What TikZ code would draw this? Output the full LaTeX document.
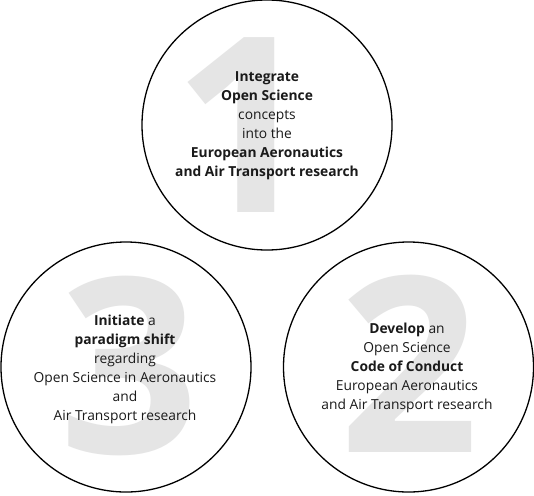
\documentclass[tikz,border=0pt]{standalone}
\usepackage{fontspec}
\setmainfont{Open Sans}
\definecolor{digitgray}{HTML}{E5E5E5}
\definecolor{txt}{HTML}{1A1A1A}
\begin{document}
\begin{tikzpicture}[x=1pt,y=-1pt,
  ring/.style={draw=black,line width=1.3pt,fill=white,circle,minimum size=250pt,inner sep=0pt},
  bigdigit/.style={text=digitgray,font=\bfseries\fontsize{245}{245}\selectfont,inner sep=0pt,anchor=base},
  label/.style={text=txt,align=center,font=\fontsize{13.8}{19}\selectfont,inner sep=0pt}]
\useasboundingbox (0,0) rectangle (534,495);
\node[ring] (c1) at (267,125) {};
\node[ring] (c2) at (408.5,367) {};
\node[ring] (c3) at (126,367) {};
\node[bigdigit] (d1) at (243.5,212) {1};
\node[bigdigit] (d2) at (409,452) {2};
\node[bigdigit] (d3) at (129.5,453) {3};
\node[label] (t1) at (267,125.5) {\textbf{Integrate}\\\textbf{Open Science}\\concepts\\into the\\\textbf{European Aeronautics}\\\textbf{and Air Transport research}};
\node[label] (t2) at (407,368) {\textbf{Develop} an\\Open Science\\\textbf{Code of Conduct}\\European Aeronautics\\and Air Transport research};
\node[label] (t3) at (125,369) {\textbf{Initiate} a\\\textbf{paradigm shift}\\regarding\\Open Science in Aeronautics\\and\\Air Transport research};
\end{tikzpicture}
\end{document}
